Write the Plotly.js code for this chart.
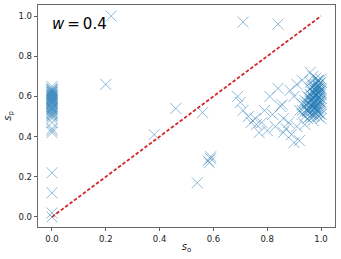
<!DOCTYPE html>
<html><head><meta charset="utf-8">
<script src="https://cdn.plot.ly/plotly-3.0.1.min.js"></script>
<style>html,body{margin:0;padding:0;background:#fff}</style>
</head><body>
<div id="chart" style="width:341px;height:259px"></div>
<script>
// column at s_o = 0
const zeroX = [0,0,0,0,0,0,0,0,0,0, 0,0,0,0,0,0,0,0,0,0, 0,0,0,0,0,0,0,0,0,0, 0,0,0,0,0,0,0,0,0,0, 0,0,0,0,0,0,0,0];
const zeroY = [0.00,0.02,0.12,0.22,0.42,0.43,0.44,0.47,0.49,0.50,
               0.51,0.52,0.53,0.54,0.54,0.55,0.55,0.56,0.56,0.57,
               0.57,0.58,0.58,0.59,0.59,0.60,0.60,0.61,0.61,0.62,
               0.62,0.63,0.63,0.64,0.65,0.505,0.515,0.525,0.535,0.545,
               0.565,0.575,0.585,0.595,0.605,0.615,0.625,0.635];
// dense cluster near s_o = 1
const clusterX = [0.97,0.98,0.99,1.00,0.99,0.98,0.97,0.96,0.99,1.00,
                  0.98,0.97,0.99,1.00,0.96,0.95,0.98,0.99,0.97,1.00,
                  0.96,0.94,0.95,0.97,0.98,0.99,1.00,0.93,0.94,0.96,
                  0.97,0.98,0.99,1.00,0.92,0.93,0.95,0.96,0.98,0.99,
                  1.00,0.93,0.94,0.96,0.97,0.99,1.00,0.95,0.97,0.98,
                  0.99,1.00,0.96,0.98,0.99,1.00,0.97,0.99,1.00,0.98,
                  0.985,0.995,0.975,0.965,0.985,0.995,0.975,0.965,0.955,0.985,
                  0.995,0.975,0.965,0.955,0.945,0.985,0.995,0.975,0.965,0.955,
                  0.985,0.995,0.975,0.965,0.985,0.995,0.975,0.985,0.995,0.99,
                  0.98,0.97,0.96,0.95,0.94,0.99,0.98,0.97,0.96,1.00];
const clusterY = [0.70,0.69,0.68,0.67,0.66,0.66,0.65,0.64,0.64,0.63,
                  0.63,0.62,0.62,0.61,0.61,0.60,0.60,0.60,0.59,0.59,
                  0.58,0.58,0.57,0.57,0.57,0.56,0.56,0.56,0.55,0.55,
                  0.55,0.54,0.54,0.54,0.53,0.53,0.53,0.52,0.52,0.52,
                  0.51,0.51,0.50,0.50,0.50,0.50,0.49,0.49,0.48,0.58,
                  0.65,0.62,0.67,0.61,0.59,0.64,0.53,0.68,0.57,0.55,
                  0.675,0.665,0.655,0.645,0.635,0.625,0.615,0.605,0.595,0.585,
                  0.575,0.565,0.555,0.545,0.535,0.525,0.515,0.505,0.585,0.565,
                  0.605,0.645,0.635,0.625,0.555,0.575,0.545,0.535,0.595,0.615,
                  0.545,0.515,0.575,0.525,0.565,0.655,0.615,0.595,0.535,0.685];
// scattered points between
const midX = [0.71,0.69,0.70,0.74,0.76,0.81,0.84,0.79,0.855,0.82,
              0.86,0.91,0.93,0.90,0.885,0.77,0.86,0.90,0.92,0.89,
              0.755,0.80,0.73,0.78,0.83,0.87,0.88,0.91,0.94,0.85,0.96];
const midY = [0.53,0.60,0.57,0.47,0.46,0.60,0.64,0.53,0.56,0.51,
              0.49,0.66,0.68,0.60,0.63,0.42,0.42,0.37,0.38,0.41,
              0.49,0.43,0.50,0.47,0.45,0.44,0.47,0.45,0.46,0.55,0.72];
// isolated points
const otherX = [0.22,0.20,0.71,0.84,0.38,0.46,0.56,0.54,0.58,0.59,0.585,0.59];
const otherY = [1.00,0.66,0.97,0.96,0.41,0.54,0.52,0.17,0.28,0.30,0.27,0.29];
const diagX = [0, 1];
const diagY = [0, 1];
const label = "<i>w</i>\u2009=\u20090.4";
const ticks = [0, 0.2, 0.4, 0.6, 0.8, 1.0];

const xs = zeroX.concat(clusterX, midX, otherX);
const ys = zeroY.concat(clusterY, midY, otherY);

const axisCommon = {
  tickvals: ticks, tickformat: '.1f', ticks: 'outside', ticklen: 3.5, tickwidth: 0.8,
  tickcolor: '#333', showline: true, mirror: true, linecolor: '#444', linewidth: 0.8,
  showgrid: false, zeroline: false, tickfont: {family: 'DejaVu Sans', size: 8.5, color: '#222'}
};
const data = [
  {x: xs, y: ys, type: 'scatter', mode: 'markers',
   marker: {symbol: 'x-thin', size: 11, color: 'rgba(31,119,180,0.5)',
            line: {width: 1, color: 'rgba(31,119,180,0.5)'}}, hoverinfo: 'none'},
  {x: diagX, y: diagY, type: 'scatter', mode: 'lines',
   line: {color: '#d62728', width: 1.8, dash: '3.5px,2px'}, hoverinfo: 'none'}
];
const layout = {
  width: 341, height: 259, showlegend: false,
  margin: {l: 38, r: 6, t: 5, b: 32},
  paper_bgcolor: '#fff', plot_bgcolor: '#fff',
  xaxis: Object.assign({}, axisCommon, {range: [-0.052, 1.052],
    title: {text: '<i>s</i><sub>o</sub>', font: {family: 'DejaVu Sans', size: 10, color: '#222'}, standoff: 0}}),
  yaxis: Object.assign({}, axisCommon, {range: [-0.05, 1.055],
    title: {text: '<i>s</i><sub>p</sub>', font: {family: 'DejaVu Sans', size: 10, color: '#222'}, standoff: 4}}),
  annotations: [{text: label, xref: 'paper', yref: 'paper', x: 0.04, y: 0.965,
    xanchor: 'left', yanchor: 'top', showarrow: false,
    font: {family: 'DejaVu Sans', size: 15, color: '#000'}}]
};
Plotly.newPlot('chart', data, layout, {displayModeBar: false, staticPlot: true});
</script>
</body></html>
